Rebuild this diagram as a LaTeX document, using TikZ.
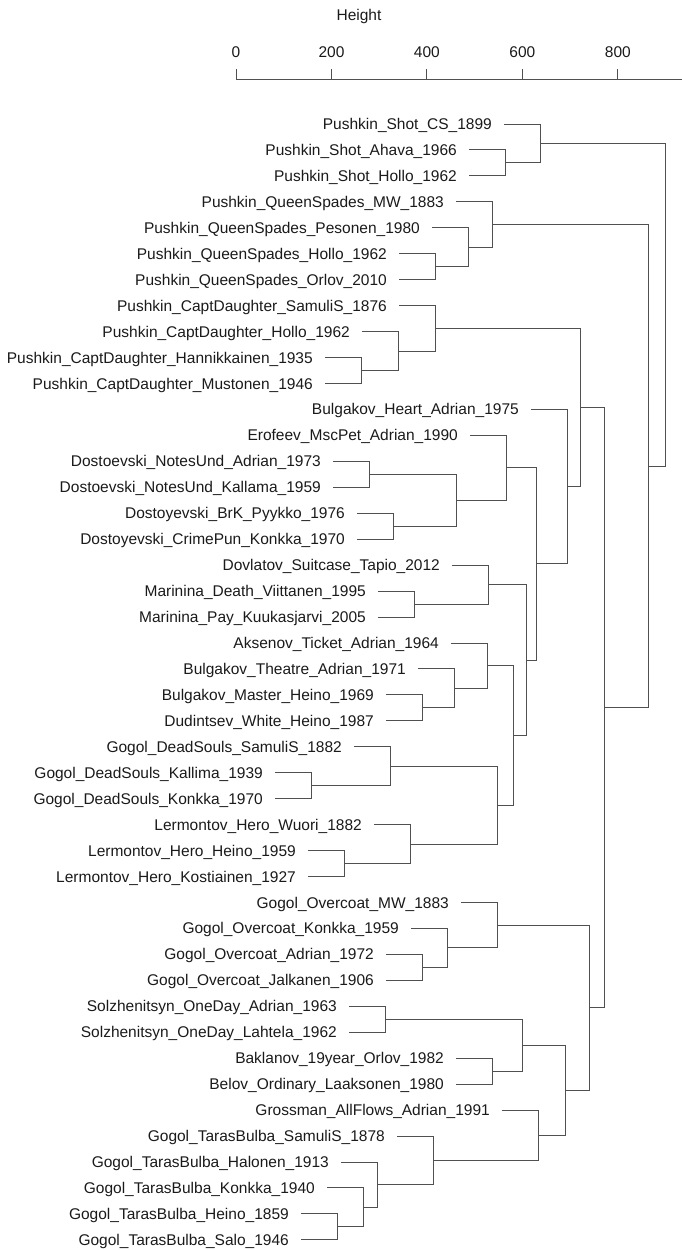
\documentclass[tikz,border=0pt]{standalone}
\usepackage{fontspec}
\setmainfont{Liberation Sans}
\usepackage{xcolor}
\definecolor{LinkGray}{HTML}{505050}
\definecolor{LabelInk}{HTML}{1A1A1A}

\begin{document}
\begin{tikzpicture}[
    x=1pt, y=-1pt,
    leaf/.style={anchor=base east, inner sep=0pt, text=LabelInk, font=\fontsize{15.5}{18}\selectfont, xshift=-12pt, yshift=-5.5pt},
    ticklabel/.style={anchor=base, inner sep=0pt, text=LabelInk, font=\fontsize{15.5}{18}\selectfont},
    link/.style={draw=LinkGray, line width=1pt}
]
    \useasboundingbox (0,0) rectangle (682,1250);

    % axis
    \node[ticklabel] (htitle) at (359,20) {Height};
    \coordinate (axstart) at (236,79);
    \coordinate (axend) at (682,79);
    \draw[link] (axstart) -- (axend);
    \foreach \v in {0,200,400,600,800} {
        \coordinate (tk\v) at ({236+\v*0.4773},79);
        \coordinate (tt\v) at ({236+\v*0.4773},69);
        \draw[link] (tk\v) -- (tt\v);
        \node[ticklabel] (lab\v) at ({236+\v*0.4773},57.3) {\v};
    }

    % merge points
    \foreach \n/\x/\y in {n1/505/162.93, n2/540/143.46, n3/435/266.73, n4/468/247.26,
        n5/492/224.56, n6/361/370.53, n7/398/351.06, n8/435/328.36,
        n9/369/474.33, n10/393/526.23, n11/456/500.28, n12/506/467.84,
        n13/414/604.08, n14/488/584.61, n15/422/707.88, n16/454/688.41,
        n17/487/665.71, n18/526/660.03, n19/513/735.45, n20/497/805.19,
        n21/311/785.73, n22/390/766.26, n23/344/863.58, n24/410/844.11,
        n25/536/563.94, n26/567/486.69, n27/580/407.53, n28/604/707.63,
        n29/648/466.1, n30/665/304.78, n31/589/1007.72, n32/422/967.38,
        n33/447/947.91, n34/497/925.21, n35/565/1090.24, n36/522/1045.23,
        n37/385/1019.28, n38/492/1071.18, n39/538/1135.24, n40/337/1226.88,
        n41/363/1207.41, n42/377/1184.71, n43/433/1160.38}
        \coordinate (\n) at (\x,\y);

    % leaves
    \foreach \i/\px/\up/\txt in {
        1/540/n2/Pushkin\_Shot\_CS\_1899,
        2/505/n1/Pushkin\_Shot\_Ahava\_1966,
        3/505/n1/Pushkin\_Shot\_Hollo\_1962,
        4/492/n5/Pushkin\_QueenSpades\_MW\_1883,
        5/468/n4/Pushkin\_QueenSpades\_Pesonen\_1980,
        6/435/n3/Pushkin\_QueenSpades\_Hollo\_1962,
        7/435/n3/Pushkin\_QueenSpades\_Orlov\_2010,
        8/435/n8/Pushkin\_CaptDaughter\_SamuliS\_1876,
        9/398/n7/Pushkin\_CaptDaughter\_Hollo\_1962,
        10/361/n6/Pushkin\_CaptDaughter\_Hannikkainen\_1935,
        11/361/n6/Pushkin\_CaptDaughter\_Mustonen\_1946,
        12/567/n26/Bulgakov\_Heart\_Adrian\_1975,
        13/506/n12/Erofeev\_MscPet\_Adrian\_1990,
        14/369/n9/Dostoevski\_NotesUnd\_Adrian\_1973,
        15/369/n9/Dostoevski\_NotesUnd\_Kallama\_1959,
        16/393/n10/Dostoyevski\_BrK\_Pyykko\_1976,
        17/393/n10/Dostoyevski\_CrimePun\_Konkka\_1970,
        18/488/n14/Dovlatov\_Suitcase\_Tapio\_2012,
        19/414/n13/Marinina\_Death\_Viittanen\_1995,
        20/414/n13/Marinina\_Pay\_Kuukasjarvi\_2005,
        21/487/n17/Aksenov\_Ticket\_Adrian\_1964,
        22/454/n16/Bulgakov\_Theatre\_Adrian\_1971,
        23/422/n15/Bulgakov\_Master\_Heino\_1969,
        24/422/n15/Dudintsev\_White\_Heino\_1987,
        25/390/n22/Gogol\_DeadSouls\_SamuliS\_1882,
        26/311/n21/Gogol\_DeadSouls\_Kallima\_1939,
        27/311/n21/Gogol\_DeadSouls\_Konkka\_1970,
        28/410/n24/Lermontov\_Hero\_Wuori\_1882,
        29/344/n23/Lermontov\_Hero\_Heino\_1959,
        30/344/n23/Lermontov\_Hero\_Kostiainen\_1927,
        31/497/n34/Gogol\_Overcoat\_MW\_1883,
        32/447/n33/Gogol\_Overcoat\_Konkka\_1959,
        33/422/n32/Gogol\_Overcoat\_Adrian\_1972,
        34/422/n32/Gogol\_Overcoat\_Jalkanen\_1906,
        35/385/n37/Solzhenitsyn\_OneDay\_Adrian\_1963,
        36/385/n37/Solzhenitsyn\_OneDay\_Lahtela\_1962,
        37/492/n38/Baklanov\_19year\_Orlov\_1982,
        38/492/n38/Belov\_Ordinary\_Laaksonen\_1980,
        39/538/n39/Grossman\_AllFlows\_Adrian\_1991,
        40/433/n43/Gogol\_TarasBulba\_SamuliS\_1878,
        41/377/n42/Gogol\_TarasBulba\_Halonen\_1913,
        42/363/n41/Gogol\_TarasBulba\_Konkka\_1940,
        43/337/n40/Gogol\_TarasBulba\_Heino\_1859,
        44/337/n40/Gogol\_TarasBulba\_Salo\_1946} {
        \coordinate (l\i) at ({\px-36},{124+(\i-1)*25.95});
        \node[leaf] (t\i) at (l\i) {\txt};
        \draw[link] (l\i) -| (\up);
    }

    % joins between clusters
    \foreach \a/\b in {n1/n2, n3/n4, n4/n5, n6/n7, n7/n8, n9/n11, n10/n11, n11/n12,
        n13/n14, n15/n16, n16/n17, n21/n22, n23/n24, n22/n20, n24/n20, n17/n19,
        n20/n19, n14/n18, n19/n18, n12/n25, n18/n25, n25/n26, n8/n27, n26/n27,
        n32/n33, n33/n34, n37/n36, n38/n36, n40/n41, n41/n42, n42/n43, n43/n39,
        n36/n35, n39/n35, n34/n31, n35/n31, n27/n28, n31/n28, n5/n29, n28/n29,
        n2/n30, n29/n30}
        \draw[link] (\a) -| (\b);
\end{tikzpicture}
\end{document}
